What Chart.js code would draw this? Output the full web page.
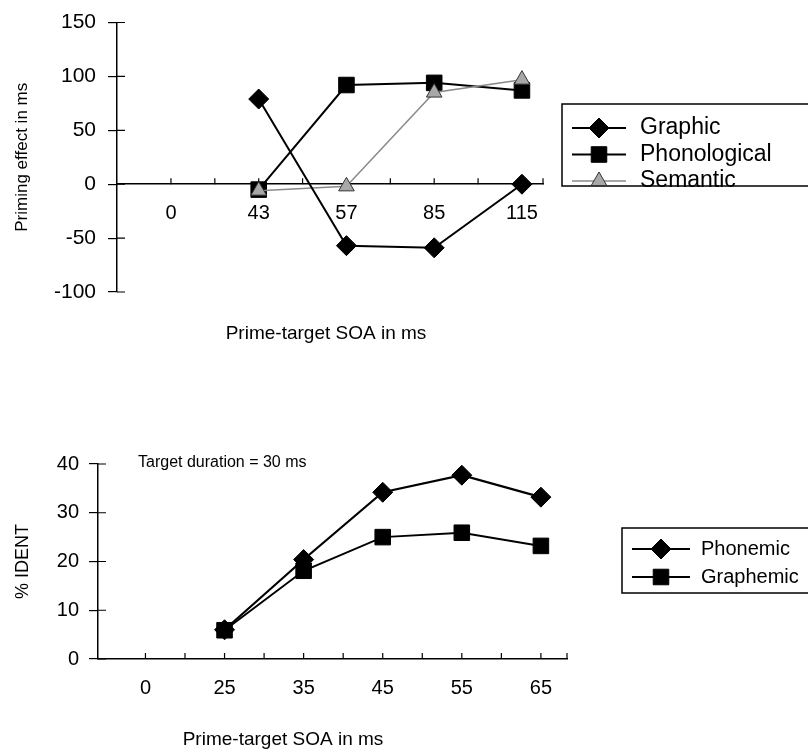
<!DOCTYPE html>
<html>
<head>
<meta charset="utf-8">
<script src="https://cdn.jsdelivr.net/npm/chart.js@4.4.1/dist/chart.umd.min.js"></script>
<style>
  html, body { margin: 0; padding: 0; background: #fff; }
  body { width: 808px; height: 752px; position: relative; overflow: hidden; }
  canvas { position: absolute; left: 0; }
  #priming { top: 0; }
  #ident { top: 440px; }
</style>
</head>
<body>
<canvas id="priming" width="808" height="360"></canvas>
<canvas id="ident" width="808" height="312"></canvas>
<script>
// top panel: priming effect per prime-target SOA
const primingSOA = ['0', '43', '57', '85', '115'];
const graphic = [null, 79, -57, -59, 0];
const phonological = [null, -5, 92, 94, 87];
const semantic = [null, -6, -2, 85, 97];
const primingTicks = [-100, -50, 0, 50, 100, 150];

// bottom panel: % IDENT per prime-target SOA
const identSOA = ['0', '25', '35', '45', '55', '65'];
const phonemic = [null, 6, 20.4, 34.2, 37.7, 33.2];
const graphemic = [null, 5.9, 18.1, 25, 25.9, 23.2];
const identTicks = [0, 10, 20, 30, 40];

const FONT = "'Liberation Sans', Arial, Helvetica, sans-serif";
Chart.defaults.font.family = FONT;
Chart.defaults.color = '#000';

const points = (values) => values.map((v, i) => ({ x: i, y: v })).filter(p => p.y !== null);

// tick marks pointing into the plot (x: every half category + axis end, y: inner half of the cross)
const innerTicks = {
    id: 'innerTicks',
    beforeDatasetsDraw(chart) {
        const { ctx, scales: { x, y } } = chart;
        const y0 = y.getPixelForValue(0);
        const marks = [];
        for (let v = 0; v <= x.max; v += 0.5) marks.push(v);
        marks.push(x.max);
        ctx.save();
        ctx.strokeStyle = '#000';
        ctx.lineWidth = 1.2;
        ctx.beginPath();
        marks.forEach(v => {
            const px = x.getPixelForValue(v);
            ctx.moveTo(px, y0);
            ctx.lineTo(px, y0 - 6);
        });
        y.ticks.forEach(t => {
            const py = y.getPixelForValue(t.value);
            ctx.moveTo(x.left, py);
            ctx.lineTo(x.left + 8, py);
        });
        ctx.stroke();
        ctx.restore();
    }
};

// boxed legend with the line running through the marker
const boxLegend = {
    id: 'boxLegend',
    afterDraw(chart, args, o) {
        const ctx = chart.ctx;
        ctx.save();
        ctx.strokeStyle = '#000';
        ctx.lineWidth = 1.5;
        ctx.strokeRect(o.left, o.top, o.width, o.height);
        ctx.font = o.fontSize + 'px ' + FONT;
        ctx.textBaseline = 'middle';
        ctx.textAlign = 'left';
        chart.data.datasets.forEach((ds, i) => {
            const yy = o.top + o.firstRow + i * o.rowGap;
            ctx.strokeStyle = ds.borderColor;
            ctx.lineWidth = ds.borderWidth;
            ctx.beginPath();
            ctx.moveTo(o.left + o.lineFrom, yy);
            ctx.lineTo(o.left + o.lineTo, yy);
            ctx.stroke();
            ctx.fillStyle = ds.pointBackgroundColor;
            ctx.strokeStyle = ds.pointBorderColor;
            ctx.lineWidth = ds.pointBorderWidth;
            Chart.helpers.drawPoint(ctx, {
                pointStyle: ds.pointStyle, radius: ds.pointRadius, rotation: 0, borderWidth: ds.pointBorderWidth
            }, o.left + (o.lineFrom + o.lineTo) / 2, yy);
            ctx.fillStyle = '#000';
            ctx.fillText(ds.label, o.left + o.textX, yy);
        });
        ctx.restore();
    }
};

// free text: axis caption and note
const captions = {
    id: 'captions',
    afterDraw(chart, args, o) {
        const ctx = chart.ctx;
        ctx.save();
        ctx.fillStyle = '#000';
        ctx.textBaseline = 'middle';
        o.items.forEach(c => {
            ctx.font = c.size + 'px ' + FONT;
            ctx.textAlign = c.align || 'center';
            ctx.fillText(c.text, c.x, c.y);
        });
        ctx.restore();
    }
};

const xAxis = (labels, min, max, pad) => ({
    type: 'linear',
    position: { y: 0 },
    min: min,
    max: max,
    afterFit: s => { s.height = 0; },
    afterBuildTicks: s => { s.ticks = labels.map((_, i) => ({ value: i })); },
    ticks: { callback: v => labels[v], font: { size: 20 }, padding: pad, autoSkip: false, maxRotation: 0 },
    grid: { display: false, drawTicks: false },
    border: { color: '#000', width: 1.5 }
});

const yAxis = (ticks, width, title, size, pad, titleSize) => ({
    min: ticks[0],
    max: ticks[ticks.length - 1],
    afterFit: s => { s.width = width; },
    afterBuildTicks: s => { s.ticks = ticks.map(v => ({ value: v })); },
    ticks: { font: { size: size, lineHeight: 1 }, padding: pad },
    grid: { drawOnChartArea: false, tickLength: 9, color: '#000', lineWidth: 1.2 },
    border: { color: '#000', width: 1.5 },
    title: { display: true, text: title, font: { size: titleSize }, padding: { top: 12 } }
});

const series = (label, values, style, radius, extra) => Object.assign({
    label: label,
    data: points(values),
    borderColor: '#000',
    borderWidth: 2,
    pointStyle: style,
    pointRadius: radius,
    pointHoverRadius: radius,
    pointBackgroundColor: '#000',
    pointBorderColor: '#000',
    pointBorderWidth: 1,
    tension: 0,
    clip: false
}, extra || {});

new Chart(document.getElementById('priming'), {
    type: 'line',
    data: {
        labels: primingSOA,
        datasets: [
            series('Graphic', graphic, 'rectRot', 10, { order: 1 }),
            series('Phonological', phonological, 'rect', 11, { order: 3 }),
            series('Semantic', semantic, 'triangle', 9, {
                order: 2, borderColor: '#8a8a8a', borderWidth: 1.5,
                pointBackgroundColor: '#a8a8a8', pointBorderColor: '#333'
            })
        ]
    },
    options: {
        responsive: false,
        animation: false,
        events: [],
        layout: { padding: { top: 20, right: 265, bottom: 68, left: 0 } },
        plugins: {
            legend: { display: false },
            tooltip: { enabled: false },
            boxLegend: { left: 562, top: 104, width: 260, height: 82, firstRow: 24, rowGap: 26.5, lineFrom: 10, lineTo: 64, textX: 78, fontSize: 23 },
            captions: { items: [{ text: 'Prime-target SOA in ms', x: 326, y: 334, size: 19 }] }
        },
        scales: {
            x: xAxis(primingSOA, -0.615, 4.24, 17),
            y: yAxis(primingTicks, 117, 'Priming effect in ms', 21, 12, 17)
        }
    },
    plugins: [innerTicks, boxLegend, captions]
});

new Chart(document.getElementById('ident'), {
    type: 'line',
    data: {
        labels: identSOA,
        datasets: [
            series('Phonemic', phonemic, 'rectRot', 10, { borderWidth: 2.2 }),
            series('Graphemic', graphemic, 'rect', 11)
        ]
    },
    options: {
        responsive: false,
        animation: false,
        events: [],
        layout: { padding: { top: 24, right: 241, bottom: 93, left: 0 } },
        plugins: {
            legend: { display: false },
            tooltip: { enabled: false },
            boxLegend: { left: 622, top: 88, width: 200, height: 65, firstRow: 21, rowGap: 28, lineFrom: 10, lineTo: 68, textX: 79, fontSize: 20 },
            captions: {
                items: [
                    { text: 'Target duration = 30 ms', x: 138, y: 23, size: 16, align: 'left' },
                    { text: 'Prime-target SOA in ms', x: 283, y: 300, size: 19 }
                ]
            }
        },
        scales: {
            x: xAxis(identSOA, -0.6, 5.33, 17),
            y: yAxis(identTicks, 98, '% IDENT', 20, 10, 18)
        }
    },
    plugins: [innerTicks, boxLegend, captions]
});
</script>
</body>
</html>
